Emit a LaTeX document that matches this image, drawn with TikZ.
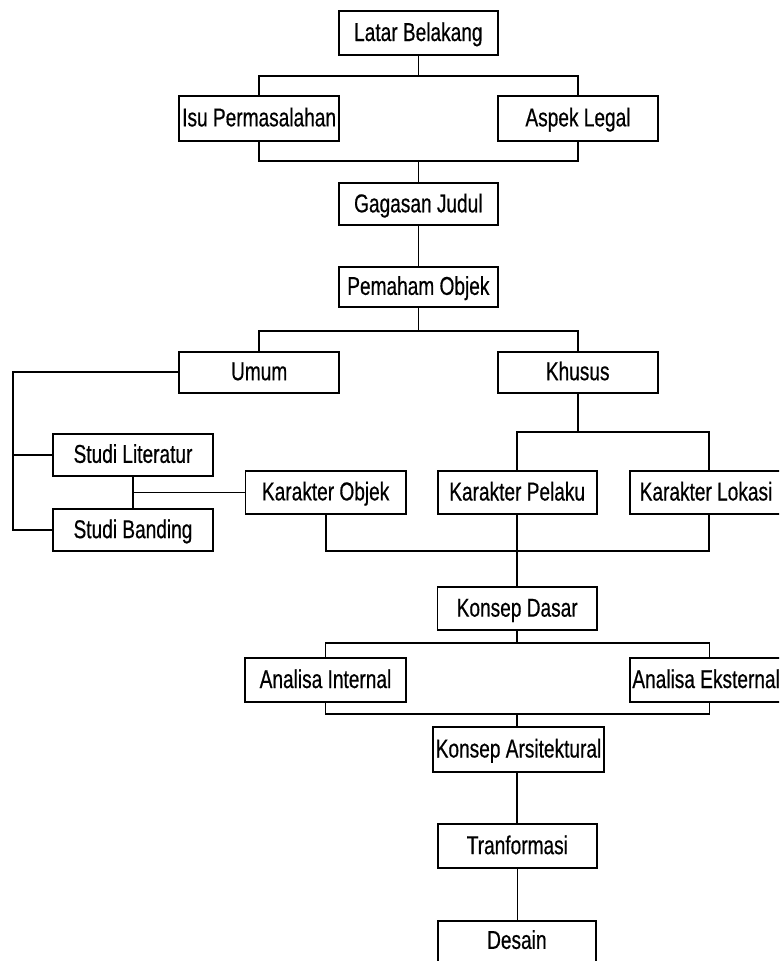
\documentclass[tikz,border=0pt]{standalone}
\usepackage{fontspec}
\setmainfont[FakeStretch=0.74,FakeBold=0.5]{Liberation Sans}
\begin{document}
\begin{tikzpicture}[x=1pt,y=-1pt,
  bx/.style={draw=black,line width=1.7pt,inner sep=0pt,
    font=\fontsize{25.8}{28}\selectfont,text height=19pt,text depth=3pt},
  ln/.style={draw=black,line width=1.7pt}]
\useasboundingbox (0,0) rectangle (779,961);
\fill[white] (0,0) rectangle (779,961);
\clip (0,0) rectangle (779,961);
% boxes
\node[bx,minimum width=158.7pt,minimum height=44pt] (lb) at (418.35,33) {Latar Belakang};
\node[bx,minimum width=159.7pt,minimum height=44.7pt] (isu) at (259.15,118.35) {Isu Permasalahan};
\node[bx,minimum width=160.6pt,minimum height=44.7pt] (aspek) at (578,118.35) {Aspek Legal};
\node[bx,minimum width=158.7pt,minimum height=42pt] (gagasan) at (418.35,204.3) {Gagasan Judul};
\node[bx,minimum width=158.7pt,minimum height=40.3pt] (pemaham) at (418.35,286.85) {Pemaham Objek};
\node[bx,minimum width=159.7pt,minimum height=41pt] (umum) at (259.15,372.2) {Umum};
\node[bx,minimum width=160pt,minimum height=41pt] (khusus) at (577.7,372.2) {Khusus};
\node[bx,minimum width=160.6pt,minimum height=41.7pt] (sl) at (133,454.85) {Studi Literatur};
\node[bx,minimum width=160.6pt,minimum height=41.7pt] (sb) at (133,530.15) {Studi Banding};
\node[bx,minimum width=160.1pt,minimum height=43.3pt] (ko) at (325.65,492.35) {Karakter Objek};
\node[bx,minimum width=159pt,minimum height=43.6pt] (kp) at (517.2,492.5) {Karakter Pelaku};
\node[bx,minimum width=152pt,minimum height=43.6pt] (kl) at (706,492.5) {Karakter Lokasi};
\node[bx,minimum width=159.6pt,minimum height=42.7pt] (kd) at (517.2,608.65) {Konsep Dasar};
\node[bx,minimum width=161pt,minimum height=43.4pt] (ai) at (325.5,680) {Analisa Internal};
\node[bx,minimum width=151.8pt,minimum height=43.4pt] (ae) at (706.1,680) {Analisa Eksternal};
\node[bx,minimum width=171.6pt,minimum height=44.4pt] (ka) at (518.5,749.5) {Konsep Arsitektural};
\node[bx,minimum width=159.3pt,minimum height=43.7pt] (tr) at (517.35,846.15) {Tranformasi};
\node[bx,minimum width=158.3pt,minimum height=54.3pt,text depth=17pt] (de) at (516.85,947.85) {Desain};
% junctions
\coordinate (j1) at (418.35,76);
\coordinate (j2) at (418.35,160.7);
\coordinate (j3) at (418.35,331);
\coordinate (ul) at (12.7,372.2);
\coordinate (j5) at (577.7,432);
\coordinate (j6) at (517.2,550.7);
\coordinate (j7) at (517.2,642.7);
\coordinate (j8) at (517.2,714);
% connectors
\draw[ln] (lb.south) -- (j1);
\draw[ln] (isu.north) |- (j1) -| (aspek.north);
\draw[ln] (isu.south) |- (j2) -| (aspek.south);
\draw[ln] (j2) -- (gagasan.north);
\draw[ln] (gagasan.south) -- (pemaham.north);
\draw[ln] (pemaham.south) -- (j3);
\draw[ln] (umum.north) |- (j3) -| (khusus.north);
\draw[ln] (umum.west) -- (ul) |- (sb.west);
\draw[ln] (ul |- sl.west) -- (sl.west);
\draw[ln] (sl.south) -- (sb.north);
\draw[ln] (sl.south |- ko.west) -- (ko.west);
\draw[ln] (khusus.south) -- (j5);
\draw[ln] (kp.north) |- (j5) -| ([xshift=3pt]kl.north);
\draw[ln] (ko.south) |- (j6) -| ([xshift=3pt]kl.south);
\draw[ln] (kp.south) -- (kd.north);
\draw[ln] (kd.south) -- (j7);
\draw[ln] (ai.north) |- (j7) -| ([xshift=3.5pt]ae.north);
\draw[ln] (ai.south) |- (j8) -| ([xshift=3.5pt]ae.south);
\draw[ln] (j8) -- (j8 |- ka.north);
\draw[ln] (j8 |- ka.south) -- (j8 |- tr.north);
\draw[ln] (tr.south) -- (tr.south |- de.north);
\end{tikzpicture}
\end{document}
